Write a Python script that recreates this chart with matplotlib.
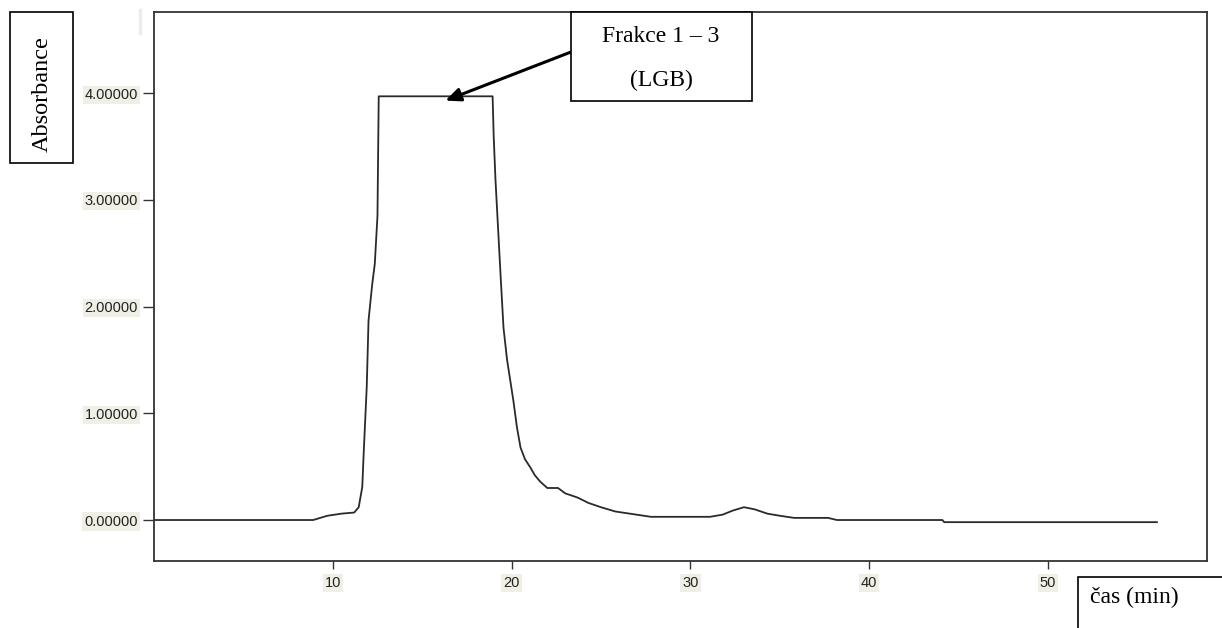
import matplotlib
matplotlib.use('Agg')
import matplotlib.pyplot as plt
from matplotlib.patches import Rectangle
from matplotlib.lines import Line2D

# chromatogram (time in min, absorbance)
time_min = [0.0, 8.9, 9.7, 10.5, 11.2, 11.45, 11.65, 11.73, 11.9, 12.0, 12.2, 12.35,
            12.5, 12.57, 18.94, 19.0, 19.1, 19.4, 19.55, 19.75, 20.1, 20.3, 20.5,
            20.75, 21.06, 21.3, 21.6, 22.0, 22.6, 23.0, 23.7, 24.3, 25.0, 25.8, 26.6,
            27.8, 31.1, 31.8, 32.4, 33.0, 33.6, 34.3, 35.0, 35.8, 37.7, 38.2, 44.1,
            44.2, 56.1]
absorbance = [0.0, 0.0, 0.04, 0.06, 0.07, 0.12, 0.31, 0.63, 1.25, 1.87, 2.2, 2.4,
              2.85, 3.97, 3.97, 3.6, 3.19, 2.25, 1.8, 1.5, 1.12, 0.87, 0.68,
              0.57, 0.49, 0.42, 0.36, 0.30, 0.30, 0.25, 0.21, 0.16, 0.12, 0.08, 0.06,
              0.03, 0.03, 0.05, 0.09, 0.12, 0.10, 0.06, 0.04, 0.02, 0.02, 0.0, 0.0,
              -0.02, -0.02]

x_ticks = [10, 20, 30, 40, 50]
y_ticks = [0, 1, 2, 3, 4]
y_ticklabels = ['0.00000', '1.00000', '2.00000', '3.00000', '4.00000']

peak_label = ['Frakce 1 \u2013 3', '(LGB)']
ylabel_text = 'Absorbance'
xlabel_text = 'čas (min)'

W, H = 1222, 628
fig = plt.figure(figsize=(W / 100, H / 100), dpi=100)
ax = fig.add_axes([154 / W, 1 - 561 / H, (1207 - 154) / W, (561 - 12) / H])

ax.plot(time_min, absorbance, color='#2a2a2a', lw=1.3)
ax.set_xlim(0, 58.9)
ax.set_ylim(-0.384, 4.76)

ax.set_xticks(x_ticks)
ax.set_yticks(y_ticks)
ax.set_yticklabels(y_ticklabels)
ax.tick_params(axis='y', length=8, width=1, color='#333333', pad=3.5,
               labelsize=10.5, labelcolor='#222222')
ax.tick_params(axis='x', length=6, width=1, color='#333333', pad=5,
               labelsize=10.5, labelcolor='#222222')
for lab in ax.get_xticklabels() + ax.get_yticklabels():
    lab.set_family('Liberation Sans')
    lab.set_bbox(dict(facecolor='#efefe6', edgecolor='none', pad=1.5))
for sp in ax.spines.values():
    sp.set_color('#333333')
    sp.set_linewidth(1.3)

serif = ['Liberation Serif', 'DejaVu Serif']

def px(x, y):
    return x / W, 1 - y / H

# box with the peak description
x0, y0 = px(571, 101)
x1, y1 = px(752, 12)
fig.patches.append(Rectangle((x0, y0), x1 - x0, y1 - y0, transform=fig.transFigure,
                             facecolor='white', edgecolor='black', lw=1.2, zorder=5))
fig.text(*px(661, 37), peak_label[0], ha='center', va='center', fontsize=17,
         family=serif, zorder=6)
fig.text(*px(661, 80), peak_label[1], ha='center', va='center', fontsize=17,
         family=serif, zorder=6)
ax.annotate('', xy=(16.3, 3.93), xycoords='data',
            xytext=px(571, 52), textcoords='figure fraction',
            arrowprops=dict(arrowstyle='-|>,head_length=0.9,head_width=0.4',
                            color='black', lw=2.2, shrinkA=0, shrinkB=0))

# y label box
x0, y0 = px(10, 163)
x1, y1 = px(73, 12)
fig.patches.append(Rectangle((x0, y0), x1 - x0, y1 - y0, transform=fig.transFigure,
                             facecolor='white', edgecolor='black', lw=1.2))
fig.text(*px(42, 94), ylabel_text, rotation=90, ha='center', va='center',
         fontsize=17.5, family=serif)

# x label box (runs off the bottom right corner)
x0, y0 = px(1078, 640)
x1, y1 = px(1230, 577)
fig.patches.append(Rectangle((x0, y0), x1 - x0, y1 - y0, transform=fig.transFigure,
                             facecolor='white', edgecolor='black', lw=1.2))
fig.text(*px(1090, 597), xlabel_text, ha='left', va='center', fontsize=17,
         family=serif)

# faint grey mark left of the top spine
fig.add_artist(Line2D([140 / W, 140 / W], [1 - 10 / H, 1 - 33 / H],
                      transform=fig.transFigure, color='#ececec', lw=2.5))

fig.savefig('out.png', dpi=100)
